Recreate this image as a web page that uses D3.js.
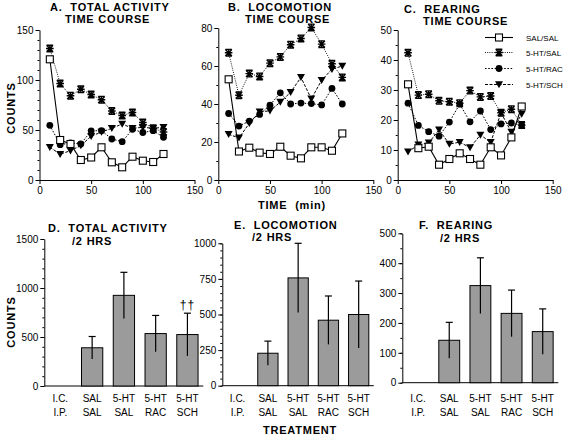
<!DOCTYPE html>
<html><head><meta charset="utf-8">
<script src="https://cdn.jsdelivr.net/npm/d3@7"></script>
<style>
html,body{margin:0;padding:0;background:#fff;}
svg{display:block;font-family:"Liberation Sans",Arial,Helvetica,sans-serif;}
.title{font-weight:bold;font-size:11px;letter-spacing:0.8px;white-space:pre;}
.lab{font-size:10px;}
</style></head><body>
<svg id="c" width="566" height="436"></svg>
<script>
// ---------- DATA ----------
const times = [10,20,30,40,50,60,70,80,90,100,110,120];
const groups = ["SAL/SAL","5-HT/SAL","5-HT/RAC","5-HT/SCH"];

// A. Total activity time course (counts)
const activitySalSal = [120.7,40,36,20,22.5,32.7,17.7,12.7,23.3,19.3,18,26];
const activityHtSal  = [131.5,96.5,84.3,90.7,85.5,80.3,69,64.5,67.5,57.5,51.7,48];
const activityHtRac  = [54.7,35.3,37,36,49.2,49.3,41,38.3,50.7,47.5,49.3,42.7];
const activityHtSch  = [32.8,25.8,29.3,34.5,43.8,48,51.7,56,51.7,52.7,51.7,52.7];

// B. Locomotion time course
const locoSalSal = [53,15,17,14.4,13.7,17.5,12.8,11.4,17.2,17.2,15.4,24.5];
const locoHtSal  = [67,44.6,56,54.5,61.5,64.8,71.2,74.5,80.3,71.5,61.2,54];
const locoHtRac  = [35,28.4,31,34.5,39.4,45.9,40,40.5,40.2,39.5,48.2,40];
const locoHtSch  = [24,22.2,29.8,35.9,36.4,41,46.2,54,42.7,52.5,58.3,60];

// C. Rearing time course
const rearSalSal = [31.9,10.6,11.1,5.1,7,8.9,7,5.1,10.9,8.2,14.2,24.5];
const rearHtSal  = [42.4,28.3,28.6,26.4,26.1,25.6,29.8,27.7,28,22.4,23.6,18.3];
const rearHtRac  = [25.6,18.2,16.1,14.6,19.3,25.3,19.4,23,16.8,18.7,19,18.3];
const rearHtSch  = [9.4,11.7,12.4,16.7,12,12.6,10.8,15,12.6,22.4,16,22];

// Bars: totals over 2 hrs
const treatments = ["IC","SAL/SAL","5-HT/SAL","5-HT/RAC","5-HT/SCH"];
const icLabels = ["I.C.","SAL","5-HT","5-HT","5-HT"];
const ipLabels = ["I.P.","SAL","SAL","RAC","SCH"];
const activityTotal = [null,390,925,535,525];
const activityErr   = [null,115,235,185,218];
const locoTotal     = [null,228,757,460,500];
const locoErr       = [null,85,243,170,235];
const rearTotal     = [null,142,325,232,171];
const rearErr       = [null,60,93,78,76];

// ---------- DRAWING ----------
const svg = d3.select("#c");
const FONT = "Liberation Sans, Arial, Helvetica, sans-serif";

const styles = {
  "SAL/SAL":  {dash:null,      w:1.1, marker:"square"},
  "5-HT/SAL": {dash:"1,1.2",   w:0.9, marker:"asterisk"},
  "5-HT/RAC": {dash:"1.6,1.6", w:1.0, marker:"circle"},
  "5-HT/SCH": {dash:"3,1.5",   w:1.0, marker:"triangle"}
};

function drawMarker(g, type, x, y){
  if(type==="square"){
    g.append("rect").attr("x",x-3.5).attr("y",y-3.5).attr("width",7).attr("height",7)
      .attr("fill","#fff").attr("stroke","#000").attr("stroke-width",1.1);
  } else if(type==="asterisk"){
    const s=3.3;
    g.append("path").attr("transform",`translate(${x},${y})`)
      .attr("d",`M${-s},${-s}L${s},${s}M${-s},${s}L${s},${-s}M0,${-s-0.5}L0,${s+0.5}M${-s-0.5},0L${s+0.5},0M${-s},${-s}L${s},${-s}M${-s},${s}L${s},${s}`)
      .attr("stroke","#000").attr("stroke-width",1.4).attr("fill","none");
  } else if(type==="circle"){
    g.append("circle").attr("cx",x).attr("cy",y).attr("r",3.4).attr("fill","#000");
  } else {
    g.append("path").attr("transform",`translate(${x},${y})`)
      .attr("d","M-4,-3.3L4,-3.3L0,3.7Z").attr("fill","#000");
  }
}

function styleAxis(g, fs){
  g.attr("font-family",FONT).attr("font-size",fs||10);
  g.selectAll("line,path").attr("stroke","#000").attr("stroke-width",1);
  g.selectAll("text").attr("fill","#000");
}

function timePanel(cfg){
  const x = d3.scaleLinear().domain([0,150]).range([cfg.x0, cfg.x0+155]);
  const y = d3.scaleLinear().domain([0,cfg.ymax]).range([cfg.yb, cfg.yt]);
  const g = svg.append("g");
  const gm = g.append("g").attr("transform",`translate(${cfg.x0},0)`)
    .call(d3.axisLeft(y).tickValues(d3.range(0,cfg.ymax+0.001,cfg.minor)).tickSize(2).tickFormat(""));
  gm.select(".domain").remove(); styleAxis(gm);
  const gy = g.append("g").attr("transform",`translate(${cfg.x0},0)`)
    .call(d3.axisLeft(y).tickValues(d3.range(0,cfg.ymax+0.001,cfg.major)).tickSize(4).tickSizeOuter(0).tickPadding(2));
  styleAxis(gy);
  const gx = g.append("g").attr("transform",`translate(0,${cfg.yb})`)
    .call(d3.axisBottom(x).tickValues([0,50,100,150]).tickSize(4).tickSizeOuter(0).tickPadding(3));
  styleAxis(gx);
  cfg.series.forEach((vals,i)=>{
    const st = styles[groups[i]];
    const line = d3.line().x((d,j)=>x(times[j])).y(d=>y(d));
    g.append("path").datum(vals).attr("d",line).attr("fill","none")
      .attr("stroke","#000").attr("stroke-width",st.w)
      .attr("stroke-dasharray",st.dash);
  });
  [1,2,3,0].forEach(i=>{
    const st = styles[groups[i]];
    const mg = g.append("g");
    cfg.series[i].forEach((v,j)=>drawMarker(mg, st.marker, x(times[j]), y(v)));
  });
  cfg.titles.forEach(t=>{
    g.append("text").attr("class","title").attr("x",t[0]).attr("y",t[1]).text(t[2]);
  });
}

timePanel({x0:39.5, yt:30, yb:180, ymax:150, major:50, minor:10,
  series:[activitySalSal,activityHtSal,activityHtRac,activityHtSch],
  titles:[[50,11,"A.  TOTAL ACTIVITY"],[65,23,"TIME COURSE"]]});
timePanel({x0:218.3, yt:28, yb:180, ymax:80, major:20, minor:10,
  series:[locoSalSal,locoHtSal,locoHtRac,locoHtSch],
  titles:[[228,11,"B.  LOCOMOTION"],[245,23,"TIME COURSE"]]});
timePanel({x0:397.7, yt:30, yb:180, ymax:50, major:10, minor:5,
  series:[rearSalSal,rearHtSal,rearHtRac,rearHtSch],
  titles:[[404,12.5,"C.  REARING"],[423,24.5,"TIME COURSE"]]});

// legend
const legRows = [37.5,52.5,68.5,84.5];
groups.forEach((gname,i)=>{
  const st = styles[gname];
  const lg = svg.append("g");
  lg.append("line").attr("x1",485).attr("x2",513).attr("y1",legRows[i]).attr("y2",legRows[i])
    .attr("stroke","#000").attr("stroke-width",st.w).attr("stroke-dasharray",st.dash);
  drawMarker(lg, st.marker, 499, legRows[i]);
  lg.append("text").attr("x",526).attr("y",legRows[i]+3).attr("font-size",8).text(gname);
});

// axis labels
svg.append("text").attr("class","title").attr("transform","translate(15,108) rotate(-90)")
  .attr("text-anchor","middle").text("COUNTS");
svg.append("text").attr("class","title").attr("transform","translate(15,322) rotate(-90)")
  .attr("text-anchor","middle").text("COUNTS");
svg.append("text").attr("class","title").attr("x",292).attr("y",209).attr("text-anchor","middle").text("TIME  (min)");
svg.append("text").attr("class","title").attr("x",300).attr("y",434).attr("text-anchor","middle").text("TREATMENT");

function barPanel(cfg){
  const x = d3.scaleBand().domain(treatments).range([cfg.x0, cfg.x1]).paddingInner(0.33).paddingOuter(0.165);
  const y = d3.scaleLinear().domain([0,cfg.ymax]).range([cfg.yb, cfg.yt]);
  const g = svg.append("g");
  const gm = g.append("g").attr("transform",`translate(${cfg.axisX},0)`)
    .call(d3.axisLeft(y).tickValues(d3.range(0,cfg.ymax+0.001,cfg.minor)).tickSize(2).tickFormat(""));
  gm.select(".domain").remove(); styleAxis(gm);
  const gy = g.append("g").attr("transform",`translate(${cfg.axisX},0)`)
    .call(d3.axisLeft(y).tickValues(d3.range(0,cfg.ymax+0.001,cfg.major)).tickSize(4).tickSizeOuter(0).tickPadding(2).tickFormat(d3.format("d")));
  styleAxis(gy);
  g.append("line").attr("x1",cfg.axisX).attr("x2",cfg.x1).attr("y1",cfg.yb).attr("y2",cfg.yb)
    .attr("stroke","#000").attr("stroke-width",1);
  treatments.forEach((t,i)=>{
    const v = cfg.vals[i];
    const cx = x(t)+x.bandwidth()/2;
    if(v!=null){
      g.append("rect").attr("x",x(t)).attr("y",y(v)).attr("width",x.bandwidth()).attr("height",y(0)-y(v))
        .attr("fill","#9b9b9b").attr("stroke","#000").attr("stroke-width",1);
      const e = cfg.errs[i];
      g.append("line").attr("x1",cx).attr("x2",cx).attr("y1",y(v+e)).attr("y2",y(v-e))
        .attr("stroke","#000").attr("stroke-width",1.2);
      g.append("line").attr("x1",cx-3.5).attr("x2",cx+3.5).attr("y1",y(v+e)).attr("y2",y(v+e))
        .attr("stroke","#000").attr("stroke-width",1.2);
    }
    g.append("text").attr("class","lab").attr("x",cx).attr("y",401.5).attr("text-anchor","middle").text(icLabels[i]);
    g.append("text").attr("class","lab").attr("x",cx).attr("y",416).attr("text-anchor","middle").text(ipLabels[i]);
  });
  cfg.titles.forEach(t=>{
    g.append("text").attr("class","title").attr("x",t[0]).attr("y",t[1]).text(t[2]);
  });
  return {x,y,g};
}

const pD = barPanel({axisX:44.3, x0:44.5, x1:203.3, yb:386, yt:239, ymax:1500, major:500, minor:100,
  vals:activityTotal, errs:activityErr,
  titles:[[48,232,"D.  TOTAL ACTIVITY"],[72,244.5,"/2 HRS"]]});
barPanel({axisX:222.3, x0:222.5, x1:373.8, yb:385.7, yt:243.3, ymax:1000, major:250, minor:50,
  vals:locoTotal, errs:locoErr,
  titles:[[234,228.5,"E.  LOCOMOTION"],[252,241,"/2 HRS"]]});
barPanel({axisX:402.3, x0:402.5, x1:558.3, yb:382.7, yt:233.3, ymax:500, major:100, minor:50,
  vals:rearTotal, errs:rearErr,
  titles:[[419,228.5,"F.  REARING"],[440,241.5,"/2 HRS"]]});

// significance daggers above 5-HT/SCH in D
pD.g.append("text").attr("x",pD.x("5-HT/SCH")+pD.x.bandwidth()/2)
  .attr("y",pD.y(activityTotal[4]+activityErr[4])-4).attr("text-anchor","middle")
  .attr("font-size",12).attr("letter-spacing",1).text("††");
</script>
</body></html>
